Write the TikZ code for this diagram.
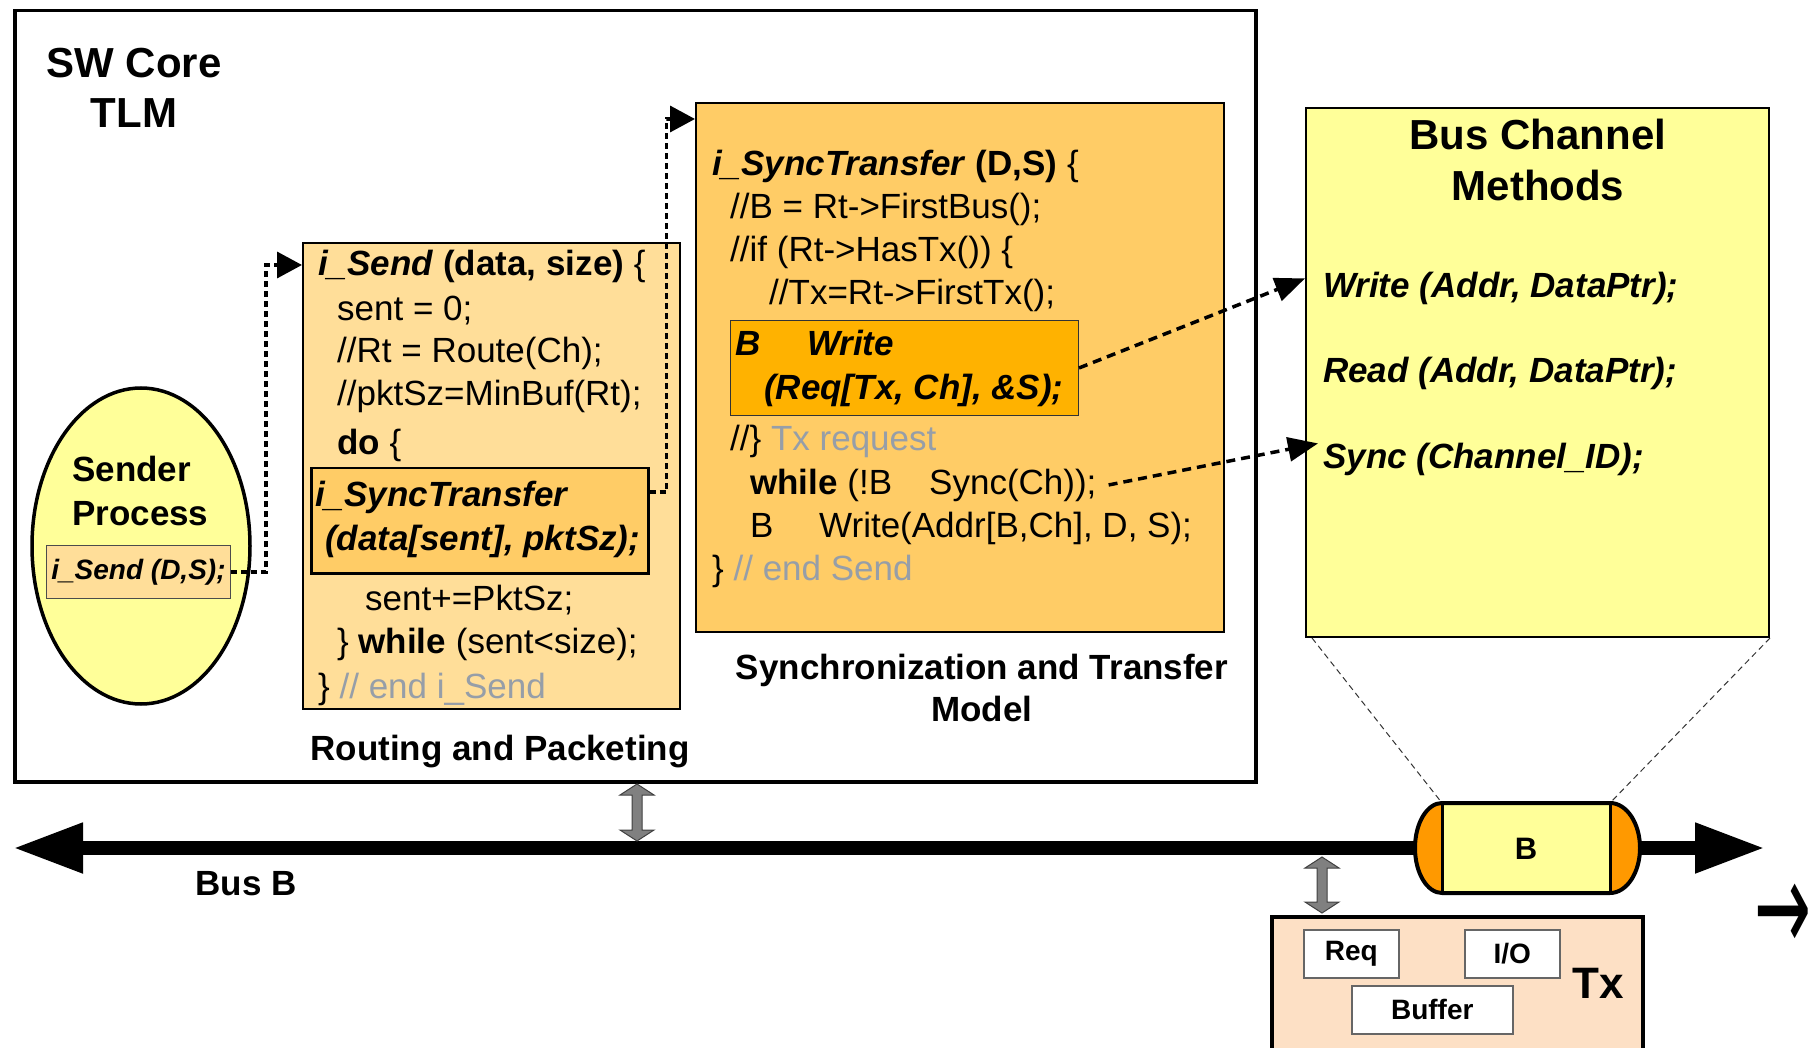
\documentclass[tikz,border=0pt]{standalone}
\usepackage{fontspec}
\setmainfont{Liberation Sans}
\newfontfamily\symfont{DejaVu Sans}
\usetikzlibrary{arrows.meta,shapes.geometric,calc}

\definecolor{paleyellow}{RGB}{255,255,153}
\definecolor{apricot}{RGB}{255,222,153}
\definecolor{lightorange}{RGB}{255,204,102}
\definecolor{amber}{RGB}{255,178,0}
\definecolor{capsorange}{RGB}{255,153,0}
\definecolor{peach}{RGB}{253,224,197}
\definecolor{commentgray}{RGB}{150,158,168}
\definecolor{arrowgray}{RGB}{128,128,128}

\newcommand\codefont{\fontsize{35}{43}\selectfont}
\newcommand\titlefont{\fontsize{42}{50}\selectfont\bfseries}
\newcommand\labelfont{\fontsize{35}{42}\selectfont\bfseries}
\newcommand\smallbold{\fontsize{28}{34}\selectfont\bfseries}
\newcommand\bi[1]{{\bfseries\itshape #1}}
\newcommand\cmt[1]{\textcolor{commentgray}{#1}}

% hollow grey double-headed arrow between the core and the bus
\newcommand\fatarrow[3]{%
  \filldraw[fill=arrowgray,draw=black!75,line width=1pt]
    (#1,#2) -- ++(17,11) -- ++(-12,0) -- (#1+5,#3-11) -- ++(12,0)
    -- (#1,#3) -- ++(-17,-11) -- ++(12,0) -- (#1-5,#2+11) -- ++(-12,0) -- cycle;}

\begin{document}
\begin{tikzpicture}[x=1pt,y=-1pt,
  code/.style={anchor=base west,inner sep=0pt,font=\codefont},
  label/.style={anchor=base,inner sep=0pt,font=\labelfont},
  box/.style={draw=black,anchor=north west,inner sep=0pt},
  smallbox/.style={box,draw=black!60,line width=1.5pt,fill=white},
  smalltext/.style={inner sep=0pt,font=\smallbold},
  dotconn/.style={line width=3.5pt,dash pattern=on 6pt off 4pt,
    -{Triangle[length=25pt,width=26pt]}},
  dashconn/.style={line width=3.5pt,dash pattern=on 9pt off 6pt,
    -{Triangle[length=30pt,width=24pt]}},
  zoomline/.style={line width=1pt,dash pattern=on 6pt off 4pt,draw=black!80},
]
\useasboundingbox (0,0) rectangle (1816,1048);

% ---------------- SW core ----------------
\node[box,line width=3.5pt,minimum width=1241pt,minimum height=771pt] (swcore) at (13,9) {};
\node[inner sep=0pt,font=\titlefont,align=center] (swtitle) at (134,88) {SW Core\\TLM};

% sender process
\node[ellipse,draw=black,line width=3.5pt,fill=paleyellow,minimum width=218pt,
      minimum height=316pt,inner sep=0pt] (sender) at (141,546) {};
\node[code,font=\labelfont] (sender1) at (72,482) {Sender};
\node[code,font=\labelfont] (sender2) at (72,525) {Process};
\node[box,draw=black!70,line width=1pt,fill=apricot,minimum width=184pt,minimum height=53pt] (isd) at (46,545) {};
\node[inner sep=0pt,font=\fontsize{28}{34}\selectfont\bfseries\itshape] (isdtext) at (isd.center) {i\_Send (D,S);};

% routing and packeting
\node[box,line width=2pt,fill=apricot,minimum width=377pt,minimum height=466pt] (route) at (302,242) {};
\node[code] (r1) at (318,276) {\bi{i\_Send} \textbf{(data, size)} \{};
\node[code] (r2) at (337,321) {sent = 0;};
\node[code] (r3) at (337,363) {//Rt = Route(Ch);};
\node[code] (r4) at (337,406) {//pktSz=MinBuf(Rt);};
\node[code] (r5) at (337,455) {\textbf{do} \{};
\node[box,line width=2.5pt,fill=lightorange,minimum width=337pt,minimum height=105pt] (istbox) at (310,467) {};
\node[code] (r6) at (315,506) {\bi{i\_SyncTransfer}};
\node[code] (r7) at (325,550) {\bi{(data[sent], pktSz);}};
\node[code] (r8) at (365,610) {sent+=PktSz;};
\node[code] (r9) at (337,653) {\} \textbf{while} (sent<size);};
\node[code] (r10) at (318,698) {\} \cmt{// end i\_Send}};
\node[label] (routelabel) at (500,760) {Routing and Packeting};

% synchronization and transfer
\node[box,line width=2pt,fill=lightorange,minimum width=528pt,minimum height=529pt] (sync) at (695,102) {};
\node[code] (s1) at (712,176) {\bi{i\_SyncTransfer} \textbf{(D,S)} \{};
\node[code] (s2) at (730,219) {//B = Rt->FirstBus();};
\node[code] (s3) at (730,262) {//if (Rt->HasTx()) \{};
\node[code] (s4) at (769,305) {//Tx=Rt->FirstTx();};
\node[box,draw=black!80,line width=1pt,fill=amber,minimum width=348pt,minimum height=95pt] (bwrite) at (730,320) {};
\node[code] (s5a) at (735,356) {\bi{B}};
\node[code] (s5b) at (807,356) {\bi{Write}};
\node[code] (s6) at (764,400) {\bi{(Req[Tx, Ch], \&S);}};
\node[code] (s7) at (730,451) {//\} \cmt{Tx request}};
\node[code] (s8a) at (750,494) {\textbf{while} (!B};
\node[code] (s8b) at (929,494) {Sync(Ch));};
\node[code] (s9a) at (750,537) {B};
\node[code] (s9b) at (819,537) {Write(Addr[B,Ch], D, S);};
\node[code] (s10) at (712,580) {\} \cmt{// end Send}};
\node[label] (synclabel1) at (982,679) {Synchronization and Transfer};
\node[label] (synclabel2) at (982,721) {Model};

% bus channel methods
\node[box,line width=2pt,fill=paleyellow,minimum width=463pt,minimum height=529pt] (bc) at (1305,107) {};
\node[anchor=base,inner sep=0pt,font=\titlefont] (bct1) at (1538,150) {Bus Channel};
\node[anchor=base,inner sep=0pt,font=\titlefont] (bct2) at (1538,201) {Methods};
\node[code] (mwrite) at (1323,298) {\bi{Write (Addr, DataPtr);}};
\node[code] (mread) at (1323,383) {\bi{Read (Addr, DataPtr);}};
\node[code] (msync) at (1323,468) {\bi{Sync (Channel\_ID);}};

% call links
\draw[dotconn] (isd.east) -- ++(35,0) |- ($(route.north west)+(0,23)$);
\draw[dotconn] ($(istbox.north east)+(0,25)$) -- ++(17,0) |- ($(sync.north west)+(0,17)$);
\draw[dashconn] (bwrite.east) -- ($(bc.west |- mwrite.north)+(0,6)$);
\draw[dashconn] ([xshift=12pt]s8b.east) -- ($(bc.west |- msync.north)+(13,1)$);

% ---------------- bus ----------------
\coordinate (busL) at (13,848);
\coordinate (busR) at (1765,848);
\draw[line width=14pt,{Triangle[length=70pt,width=47pt]}-{Triangle[length=70pt,width=47pt]}] (busL) -- (busR);
\node[label] (buslabel) at (246,895) {Bus B};

\fatarrow{637}{784}{841}
\fatarrow{1322}{857}{913}

% bus channel capsule
\coordinate (capTL) at (1442,803);
\coordinate (capTR) at (1610,803);
\fill[capsorange] (1442,803) -- (1610,803) arc[start angle=-90,end angle=90,x radius=30,y radius=45]
  -- (1442,893) arc[start angle=90,end angle=270,x radius=27,y radius=45] -- cycle;
\fill[paleyellow] (1442,803) rectangle (1610,893);
\draw[line width=4pt] (1442,803) -- (1610,803) arc[start angle=-90,end angle=90,x radius=30,y radius=45]
  -- (1442,893) arc[start angle=90,end angle=270,x radius=27,y radius=45] -- cycle;
\draw[line width=3pt] (1442,803) -- (1442,893) (1610,803) -- (1610,893);
\node[inner sep=0pt,font=\fontsize{31}{36}\selectfont\bfseries] (capB) at (1526,849) {B};

\draw[zoomline] ([xshift=7pt]bc.south west) -- (capTL);
\draw[zoomline] (bc.south east) -- (capTR);

% ---------------- transceiver ----------------
\node[box,line width=4pt,fill=peach,minimum width=371pt,minimum height=170pt] (txbox) at (1270,915) {};
\node[smallbox,minimum width=95pt,minimum height=48pt] (req) at (1303,929) {};
\node[smalltext] (reqtext) at (req.center) {Req};
\node[smallbox,minimum width=95pt,minimum height=48pt] (io) at (1464,929) {};
\node[smalltext] (iotext) at (io.center) {I/O};
\node[smallbox,minimum width=161pt,minimum height=48pt] (buffer) at (1351,985) {};
\node[smalltext] (buffertext) at (buffer.center) {Buffer};
\node[inner sep=0pt,font=\fontsize{44}{50}\selectfont\bfseries] (txlabel) at (1598,983) {Tx};

\node[inner sep=0pt,font=\symfont\fontsize{80}{80}\selectfont] (strayarrow) at (1783,918) {\scalebox{0.85}[1.6]{→}};
\end{tikzpicture}
\end{document}
